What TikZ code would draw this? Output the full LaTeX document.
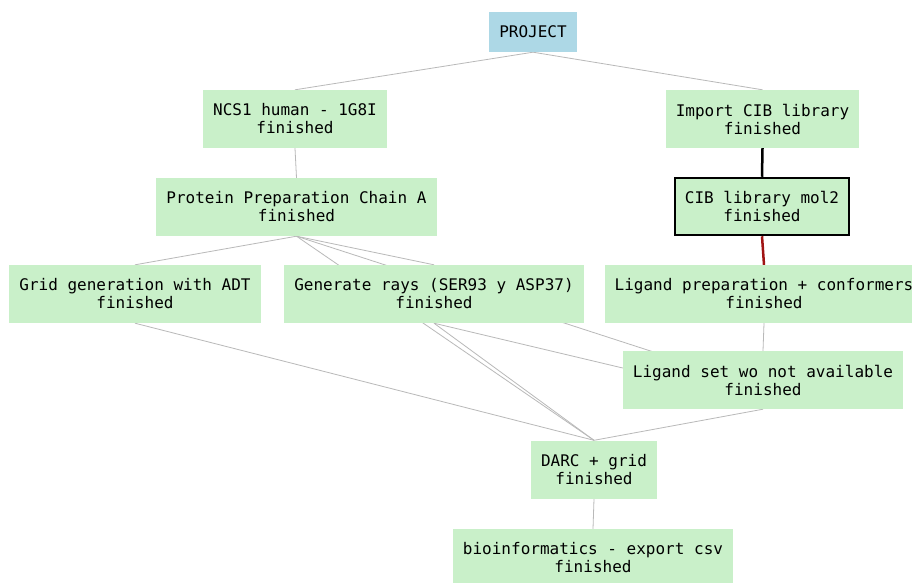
\documentclass[tikz,border=0pt]{standalone}
\usepackage{fontspec}
\setmonofont{DejaVu Sans Mono}
\usetikzlibrary{calc}
\definecolor{nodegreen}{RGB}{201,240,201}
\definecolor{projblue}{RGB}{173,216,230}
\definecolor{edgegray}{RGB}{185,185,185}
\definecolor{darkred}{RGB}{160,20,20}
\pgfdeclarelayer{bg}
\pgfsetlayers{bg,main}
\begin{document}
\begin{tikzpicture}[x=1pt,y=-1pt,
  task/.style={fill=nodegreen, draw=none, inner xsep=10pt, inner ysep=0pt,
    minimum height=58pt, align=center,
    font=\ttfamily\fontsize{16pt}{18pt}\selectfont},
  projbox/.style={fill=projblue, draw=none, inner xsep=10pt, minimum height=40pt,
    font=\ttfamily\fontsize{16pt}{18pt}\selectfont},
  link/.style={draw=edgegray, line width=0.8pt},
  boldlink/.style={draw=black, line width=2.5pt},
  redlink/.style={draw=darkred, line width=2.5pt}]
\useasboundingbox (0,0) rectangle (912,582);

\node[projbox] (proj) at (533,32) {PROJECT};
\node[task] (ncs) at (295,119) {NCS1 human - 1G8I\\finished};
\node[task] (cib) at (762.5,119) {Import CIB library\\finished};
\node[task] (prep) at (296.5,207) {Protein Preparation Chain A\\finished};
\node[task, draw=black, line width=2.5pt, minimum height=57pt] (mol2) at (762,206.5) {CIB library mol2\\finished};
\node[task] (grid) at (135,294) {Grid generation with ADT\\finished};
\node[task] (rays) at (434,294) {Generate rays (SER93 y ASP37)\\finished};
\node[task] (ligprep) at (764,294) {Ligand preparation + conformers\\finished};
\node[task] (ligset) at (763,380) {Ligand set wo not available\\finished};
\node[task] (darc) at (594,469.5) {DARC + grid\\finished};
\node[task] (bio) at (593,558) {bioinformatics - export csv\\finished};

\begin{pgfonlayer}{bg}
\fill[white] (0,0) rectangle (912,582);
\draw[link] (proj.south) -- (ncs.north);
\draw[link] (proj.south) -- (cib.north);
\draw[link] (ncs.south) -- (prep.north);
\draw[boldlink] (cib.south) -- (mol2.north);
\draw[redlink] (mol2.south) -- (ligprep.north);
\draw[link] (prep.south) -- (grid.north);
\draw[link] (prep.south) -- (rays.north);
\draw[link] (prep.south) -- (darc.north);
\draw[link] (prep.south) -- ($(ligset.center)+(-23,0)$);
\draw[link] (rays.south) -- (darc.north);
\draw[link] (rays.south) -- ($(ligset.west)+(0,-12)$);
\draw[link] (grid.south) -- (darc.north);
\draw[link] (ligprep.south) -- (ligset.north);
\draw[link] (ligset.south) -- (darc.north);
\draw[link] (darc.south) -- (bio.north);
\end{pgfonlayer}
\end{tikzpicture}
\end{document}
